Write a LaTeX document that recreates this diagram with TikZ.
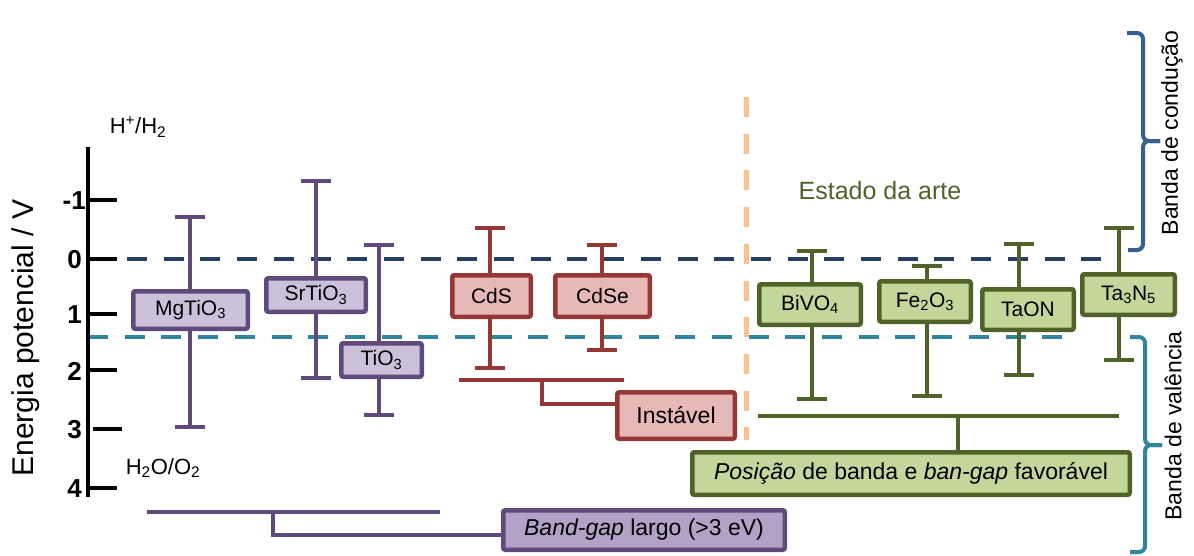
\documentclass[tikz,border=0pt]{standalone}
\usepackage{fontspec}
\setmainfont{Liberation Sans}
\usetikzlibrary{arrows.meta,calc}
\definecolor{purpD}{HTML}{604A7B}
\definecolor{purpL}{HTML}{CCC1DA}
\definecolor{purpM}{HTML}{B3A2C7}
\definecolor{redD}{HTML}{953735}
\definecolor{redL}{HTML}{E6B9B8}
\definecolor{grnD}{HTML}{4F6228}
\definecolor{grnL}{HTML}{C3D69B}
\definecolor{navy}{HTML}{243F60}
\definecolor{tealc}{HTML}{31859C}
\definecolor{orangec}{HTML}{FAC090}
\definecolor{bluec}{HTML}{376092}
\tikzset{
  fs/.style={font=\fontsize{#1}{#1}\selectfont},
  boxstyle/.style n args={2}{draw=#1, fill=#2, line width=4.5pt, rounded corners=2pt, inner sep=0pt, text=black},
  pbox/.style={boxstyle={purpD}{purpL}, fs=21},
  rbox/.style={boxstyle={redD}{redL}, fs=21},
  gbox/.style={boxstyle={grnD}{grnL}, fs=21},
  ebar/.style={draw=#1, line width=4pt, arrows={Bar[width=30pt]-Bar[width=30pt]}},
  brk/.style={draw=#1, line width=4pt},
  dline/.style={draw=#1, line width=4pt, dash pattern=on 20pt off 16.7pt},
  brace/.style={draw=#1, line width=4pt, rounded corners=6pt},
  tick/.style={line width=4pt},
  ticklab/.style={font=\bfseries\fontsize{26}{26}\selectfont, anchor=east, inner sep=0pt},
}
\begin{document}
\begin{tikzpicture}[x=1pt,y=-1pt]
\useasboundingbox (0,0) rectangle (1194,555);
\fill[white] (0,0) rectangle (1194,555);

% dashed reference lines
\coordinate (nvA) at (127,259); \coordinate (nvB) at (1113,259);
\coordinate (tlA) at (88,337);  \coordinate (tlB) at (1075,337);
\coordinate (orA) at (746,97);  \coordinate (orB) at (746,440);
\draw[dline=navy] (nvA) -- (nvB);
\draw[dline=tealc] (tlA) -- (tlB);
\draw[draw=orangec, line width=5pt, dash pattern=on 20pt off 16.7pt] (orA) -- (orB);

% axis
\coordinate (axT) at (88,147); \coordinate (axB) at (88,497);
\draw[line width=4pt] (axT) -- (axB);
\coordinate (tkA) at (88,200); \coordinate (tkB) at (88,259); \coordinate (tkC) at (88,314);
\coordinate (tkD) at (88,370); \coordinate (tkE) at (93,429); \coordinate (tkF) at (88,488);
\foreach \c in {A,B,C,D,E,F}{ \draw[tick] (tk\c) -- ++(29,0); }
\node[ticklab] (lA) at (86,201) {-1};
\node[ticklab] (lB) at (82,260) {0};
\node[ticklab] (lC) at (82,315) {1};
\node[ticklab] (lD) at (82,371) {2};
\node[ticklab] (lE) at (82,430) {3};
\node[ticklab] (lF) at (82,489) {4};
\node[fs=30, rotate=90] (axlab) at (26,338) {Energia potencial / V};
\node[fs=22] (hh) at (138,127) {H\textsuperscript{+}/H\textsubscript{2}};
\node[fs=22] (ho) at (163,468) {H\textsubscript{2}O/O\textsubscript{2}};

% error bars
\coordinate (mgT) at (190,215);  \coordinate (mgB) at (190,429);
\coordinate (srT) at (316,179);  \coordinate (srB) at (316,380);
\coordinate (tiT) at (379,243);  \coordinate (tiB) at (379,417);
\coordinate (cdT) at (490,226);  \coordinate (cdB) at (490,370);
\coordinate (ceT) at (602,243);  \coordinate (ceB) at (602,352);
\coordinate (biT) at (812,249);  \coordinate (biB) at (812,401);
\coordinate (feT) at (927,264);  \coordinate (feB) at (927,398);
\coordinate (taT) at (1019,242); \coordinate (taB) at (1019,377);
\coordinate (tnT) at (1119,226); \coordinate (tnB) at (1119,362);
\draw[ebar=purpD] (mgT) -- (mgB);
\draw[ebar=purpD] (srT) -- (srB);
\draw[ebar=purpD] (tiT) -- (tiB);
\draw[ebar=redD] (cdT) -- (cdB);
\draw[ebar=redD] (ceT) -- (ceB);
\draw[ebar=grnD] (biT) -- (biB);
\draw[ebar=grnD] (feT) -- (feB);
\draw[ebar=grnD] (taT) -- (taB);
\draw[ebar=grnD] (tnT) -- (tnB);

% material boxes
\node[pbox, minimum width=114.5pt, minimum height=37.5pt] (mg) at (190.5,310) {MgTiO\textsubscript{3}};
\node[pbox, minimum width=99.5pt, minimum height=33.5pt] (sr) at (316,295) {SrTiO\textsubscript{3}};
\node[pbox, minimum width=80.5pt, minimum height=33.5pt] (ti) at (381.5,360) {TiO\textsubscript{3}};
\node[rbox, minimum width=78.5pt, minimum height=41.5pt] (cds) at (491.5,296) {CdS};
\node[rbox, minimum width=94.5pt, minimum height=41.5pt] (cdse) at (602.5,296) {CdSe};
\node[gbox, minimum width=101.5pt, minimum height=40.5pt] (bi) at (810,304.5) {BiVO\textsubscript{4}};
\node[gbox, minimum width=91.5pt, minimum height=40.5pt] (fe) at (925,301.5) {Fe\textsubscript{2}O\textsubscript{3}};
\node[gbox, minimum width=91.5pt, minimum height=40.5pt] (ta) at (1028,309.5) {TaON};
\node[gbox, minimum width=92.5pt, minimum height=40.5pt] (tn) at (1128.5,294.5) {Ta\textsubscript{3}N\textsubscript{5}};

% Estado da arte
\node[fs=25, text=grnD] (est) at (880,191) {Estado da arte};

% red bracket
\coordinate (rA) at (459,380); \coordinate (rB) at (624,380); \coordinate (rJ) at (542,380);
\node[boxstyle={redD}{redL}, fs=23, minimum width=117.5pt, minimum height=46.5pt] (inst) at (676,415.5) {Instável};
\draw[brk=redD] (rA) -- (rB);
\draw[brk=redD] (rJ) |- ($(inst.west)+(0,-11.5)$);

% green bracket
\coordinate (gA) at (758,416); \coordinate (gB) at (1119,416); \coordinate (gJ) at (958,416);
\node[boxstyle={grnD}{grnL}, fs=23, minimum width=437.5pt, minimum height=42.5pt] (fav) at (911,473.5) {\textit{Posição} de banda e \textit{ban-gap} favorável};
\draw[brk=grnD] (gA) -- (gB);
\draw[brk=grnD] (gJ) -- (gJ |- fav.north);

% purple bracket
\coordinate (pA) at (147,512); \coordinate (pB) at (440,512); \coordinate (pJ) at (273,512);
\node[boxstyle={purpD}{purpM}, fs=23, minimum width=281.5pt, minimum height=39.5pt] (bg) at (644,530) {\textit{Band-gap} largo (>3 eV)};
\draw[brk=purpD] (pA) -- (pB);
\draw[brk=purpD] (pJ) |- ($(bg.west)+(0,5)$);

% braces
\coordinate (bcT) at (1127,33); \coordinate (bcB) at (1128,250); \coordinate (bcM) at (1143,141); \coordinate (bcP) at (1160,141);
\draw[brace=bluec] (bcT) -| (bcM) -- (bcP);
\draw[brace=bluec] (bcB) -| (bcM) -- (bcP);
\coordinate (bvT) at (1130,337); \coordinate (bvB) at (1130,552); \coordinate (bvM) at (1145,445); \coordinate (bvP) at (1162,445);
\draw[brace=tealc] (bvT) -| (bvM) -- (bvP);
\draw[brace=tealc] (bvB) -| (bvM) -- (bvP);
\node[fs=23, rotate=90] (bcl) at (1172,133) {Banda de condução};
\node[fs=23, rotate=90] (bvl) at (1173,426) {Banda de valência};
\end{tikzpicture}
\end{document}
